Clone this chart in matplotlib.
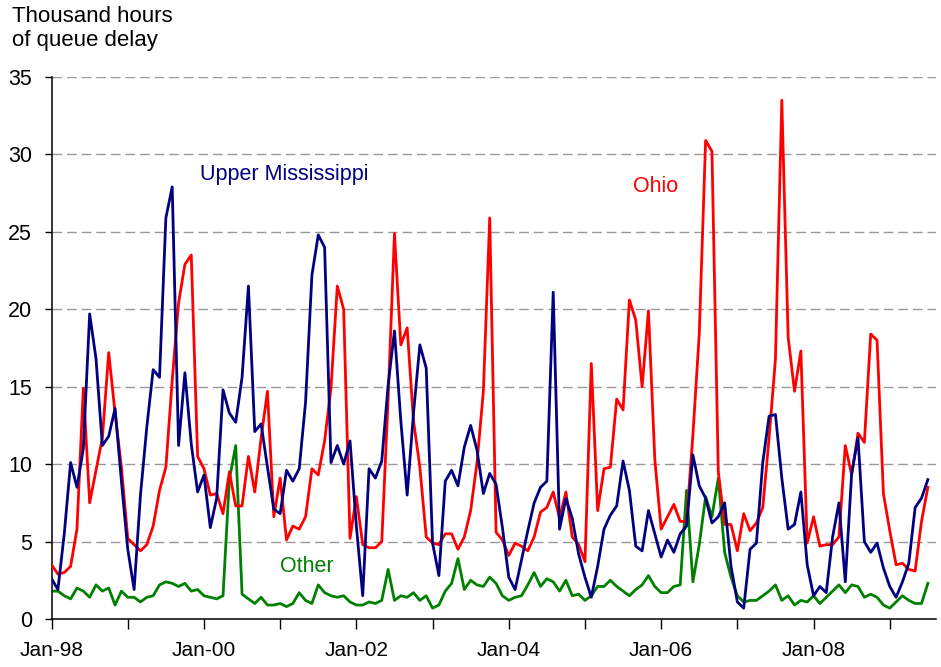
import matplotlib
matplotlib.use('Agg')
import matplotlib.pyplot as plt
import numpy as np

# monthly queue delay, thousand hours, Jan-98 .. Jul-09
upper_miss = [2.6, 1.9, 5.5, 10.1, 8.5, 11.0, 19.7, 16.8, 11.2, 11.8, 13.6, 8.9,
              4.5, 1.9, 8.0, 12.4, 16.1, 15.6, 25.9, 27.9, 11.2, 15.9, 11.3, 8.2,
              9.3, 5.9, 7.8, 14.8, 13.3, 12.7, 15.6, 21.5, 12.1, 12.6, 9.8, 7.1,
              6.8, 9.6, 8.9, 9.7, 14.0, 22.2, 24.8, 24.0, 10.1, 11.2, 10.0, 11.5,
              6.0, 1.5, 9.7, 9.1, 10.2, 15.1, 18.6, 12.8, 8.0, 13.3, 17.7, 16.2,
              4.9, 2.8, 8.9, 9.6, 8.6, 11.1, 12.5, 10.9, 8.1, 9.4, 8.7, 5.9,
              2.7, 1.9, 3.8, 5.7, 7.5, 8.5, 8.9, 21.1, 5.8, 7.8, 6.5, 4.2,
              2.7, 1.4, 3.4, 5.8, 6.7, 7.3, 10.2, 8.3, 4.7, 4.4, 7.0, 5.5,
              4.0, 5.1, 4.3, 5.5, 6.0, 10.6, 8.6, 7.8, 6.2, 6.6, 7.5, 3.4,
              1.1, 0.7, 4.5, 4.9, 10.1, 13.1, 13.2, 9.1, 5.8, 6.1, 8.2, 3.5,
              1.5, 2.1, 1.7, 5.3, 7.5, 2.4, 9.4, 11.7, 5.0, 4.3, 4.9, 3.3,
              2.1, 1.4, 2.4, 3.6, 7.2, 7.8, 9.0]

ohio = [3.5, 2.9, 3.0, 3.4, 5.8, 14.9, 7.5, 9.6, 11.7, 17.2, 13.3, 9.8,
        5.2, 4.8, 4.4, 4.8, 6.0, 8.3, 9.8, 15.4, 20.4, 22.9, 23.5, 10.5,
        9.7, 8.0, 8.1, 6.8, 9.5, 7.3, 7.3, 10.5, 8.2, 11.7, 14.7, 6.6,
        9.1, 5.1, 6.0, 5.8, 6.6, 9.7, 9.3, 11.5, 14.9, 21.5, 20.0, 5.2,
        7.9, 4.8, 4.6, 4.6, 5.0, 14.2, 24.9, 17.7, 18.8, 12.8, 9.8, 5.3,
        4.9, 4.8, 5.5, 5.5, 4.5, 5.3, 7.0, 10.1, 14.7, 25.9, 5.6, 5.1,
        4.1, 4.9, 4.7, 4.4, 5.3, 6.9, 7.2, 8.2, 6.5, 8.2, 5.3, 4.8,
        3.7, 16.5, 7.0, 9.7, 9.8, 14.2, 13.5, 20.6, 19.3, 15.0, 19.9, 10.3,
        5.8, 6.6, 7.4, 6.3, 6.3, 11.9, 18.4, 30.9, 30.2, 9.5, 6.1, 6.1,
        4.4, 6.8, 5.7, 6.2, 7.2, 11.7, 16.8, 33.5, 18.2, 14.7, 17.3, 4.9,
        6.6, 4.7, 4.8, 4.8, 5.3, 11.2, 9.3, 12.0, 11.4, 18.4, 18.0, 8.1,
        5.7, 3.5, 3.6, 3.2, 3.1, 6.3, 8.5]

other = [1.8, 1.8, 1.5, 1.3, 2.0, 1.8, 1.4, 2.2, 1.8, 2.0, 0.9, 1.8,
         1.4, 1.4, 1.1, 1.4, 1.5, 2.2, 2.4, 2.3, 2.1, 2.3, 1.8, 1.9,
         1.5, 1.4, 1.3, 1.5, 9.0, 11.2, 1.6, 1.3, 1.0, 1.4, 0.9, 0.9,
         1.0, 0.8, 1.0, 1.7, 1.2, 1.0, 2.2, 1.7, 1.5, 1.4, 1.5, 1.1,
         0.9, 0.9, 1.1, 1.0, 1.2, 3.2, 1.2, 1.5, 1.4, 1.7, 1.2, 1.5,
         0.7, 0.9, 1.8, 2.3, 3.9, 1.9, 2.5, 2.2, 2.1, 2.7, 2.3, 1.5,
         1.2, 1.4, 1.5, 2.2, 3.0, 2.1, 2.6, 2.4, 1.8, 2.5, 1.5, 1.6,
         1.2, 1.5, 2.1, 2.1, 2.5, 2.1, 1.8, 1.5, 1.9, 2.2, 2.8, 2.1,
         1.7, 1.7, 2.1, 2.2, 8.3, 2.4, 4.8, 7.9, 6.6, 9.1, 4.3, 2.7,
         1.5, 1.1, 1.2, 1.2, 1.5, 1.8, 2.2, 1.2, 1.5, 0.9, 1.2, 1.1,
         1.5, 1.0, 1.4, 1.8, 2.2, 1.7, 2.2, 2.1, 1.4, 1.6, 1.4, 0.9,
         0.7, 1.1, 1.5, 1.2, 1.0, 1.0, 2.3]

year_labels = ['Jan-98', '', 'Jan-00', '', 'Jan-02', '', 'Jan-04', '',
               'Jan-06', '', 'Jan-08', '']

plt.rcParams['font.family'] = ['Liberation Sans', 'DejaVu Sans']
matplotlib.rcParams['axes.linewidth'] = 1.1

fig = plt.figure(figsize=(9.41, 6.67), dpi=100)
ax = fig.add_axes([0.0548, 0.072, 0.94, 0.8126])

months = np.arange(len(upper_miss))
ax.plot(months, ohio, color='#ff0000', lw=2.0, zorder=3)
ax.plot(months, upper_miss, color='#000080', lw=2.0, zorder=4)
ax.plot(months, other, color='#008000', lw=2.0, zorder=2)

ax.set_ylim(0, 35)
ax.set_xlim(0, 139.3)
ax.set_yticks(np.arange(0, 36, 5))
ax.set_xticks(np.arange(0, 12 * len(year_labels), 12))
ax.set_xticklabels(year_labels)
for v in range(5, 36, 5):
    ax.axhline(v, color='#999999', lw=1.0, dashes=(7, 3.5), zorder=1)

ax.spines['top'].set_visible(False)
ax.spines['right'].set_visible(False)
ax.tick_params(axis='y', direction='out', length=5, width=1, pad=9, labelsize=15.5)
ax.tick_params(axis='x', direction='out', length=7, width=1, pad=9, labelsize=15)

ax.text(23.4, 28.7, 'Upper Mississippi', color='#000080', fontsize=15.5, va='center')
ax.text(91.6, 27.9, 'Ohio', color='#ff0000', fontsize=15.5, va='center')
ax.text(36.0, 3.4, 'Other', color='#008000', fontsize=15.5, va='center')

fig.text(12 / 941, 1 - 6 / 667, 'Thousand hours\nof queue delay', fontsize=16,
         va='top', ha='left', linespacing=1.2)

fig.savefig('out.png', dpi=100)
